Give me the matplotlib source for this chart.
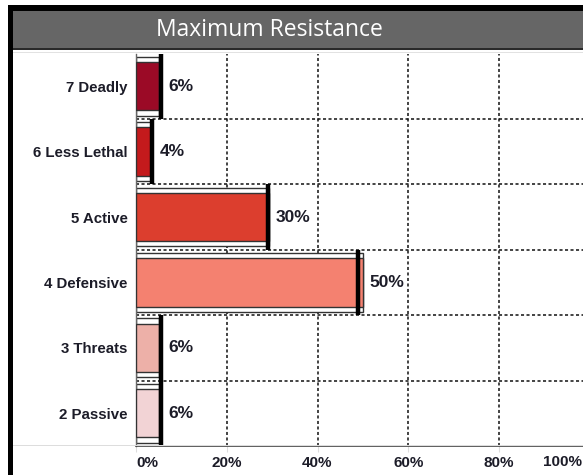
import matplotlib
matplotlib.use("Agg")
import matplotlib.pyplot as plt
from matplotlib.patches import Rectangle

# ---- data ----
categories = ["7 Deadly", "6 Less Lethal", "5 Active", "4 Defensive", "3 Threats", "2 Passive"]
bar_values = [5.0, 3.3, 29.3, 50.0, 5.0, 5.0]
marker_values = [5.5, 3.6, 29.0, 49.0, 5.5, 5.5]
value_labels = ["6%", "4%", "30%", "50%", "6%", "6%"]
bar_colors = ["#9B0A26", "#C41A1C", "#DC3E2E", "#F48170", "#EDB0A8", "#F2D3D5"]
x_ticks = [0, 20, 40, 60, 80, 100]
x_tick_labels = ["0%", "20%", "40%", "60%", "80%", "100%"]
title = "Maximum Resistance"

W, H = 583, 475
fig = plt.figure(figsize=(W / 100, H / 100), dpi=100)
fig.patch.set_facecolor("white")

def fx(x):
    return x / W

def fy(y):
    return 1 - y / H

def frect(x0, y0, x1, y1, **kw):
    fig.add_artist(Rectangle((fx(x0), fy(y1)), fx(x1) - fx(x0), fy(y0) - fy(y1),
                             transform=fig.transFigure, **kw))

# borders & title band
frect(8, 5, W + 5, 11, facecolor="black", edgecolor="none", zorder=5)
frect(8, 5, 13, H + 5, facecolor="black", edgecolor="none", zorder=5)
frect(13, 11, W + 5, 48, facecolor="#666666", edgecolor="none", zorder=4)
frect(13, 48, W + 5, 50, facecolor="#2a2a2a", edgecolor="none", zorder=4)
frect(13, 51.5, W + 5, 53, facecolor="#e2e2e2", edgecolor="none", zorder=1)
frect(13, 444.5, W + 5, 446, facecolor="#dddddd", edgecolor="none", zorder=1)
fig.text(fx(269.5), fy(30), title, color="white", fontsize=16.5,
         family="Open Sans", ha="center", va="center", zorder=6)

# axes
ax_left, ax_right = 136, 589.75
ax_top, ax_bottom = 53.5, 446
ax = fig.add_axes([fx(ax_left), fy(ax_bottom), fx(ax_right) - fx(ax_left), fy(ax_top) - fy(ax_bottom)])
ax.set_facecolor("white")
ax.set_xlim(0, 100)
n = len(categories)
ypos = list(range(n))
ax.set_ylim(n - 0.5, -0.5)

# grid
for gx in x_ticks[1:-1]:
    ax.axvline(gx, color="#111111", lw=1.1, ls=(0, (2, 1.6)), zorder=1)
for i in range(n - 1):
    ax.axhline(i + 0.5, color="#111111", lw=1.1, ls=(0, (2, 1.6)), zorder=1)

# bars
ax.barh(ypos, bar_values, height=0.9, color="white", edgecolor="#333333", lw=1, zorder=2)
ax.barh(ypos, bar_values, height=0.74, color=bar_colors, edgecolor="#333333", lw=1, zorder=3)
for y, m in zip(ypos, marker_values):
    ax.vlines(m, y - 0.5, y + 0.5, color="black", lw=3.2, zorder=4)

for y, b, m, lab in zip(ypos, bar_values, marker_values, value_labels):
    ax.annotate(lab, xy=(max(b, m), y), xytext=(5, 0), textcoords="offset points",
                ha="left", va="center", fontsize=12.5, fontweight="bold",
                family="Liberation Sans", color="#1c1c28", zorder=5)

ax.set_yticks(ypos)
ax.set_yticklabels(categories, fontsize=10.8, fontweight="bold", family="Liberation Sans", color="#1c1c28")
ax.tick_params(axis="y", length=0, pad=6)
ax.set_xticks(x_ticks)
shown = x_tick_labels[:-1] + [""]
ax.set_xticklabels(shown, fontsize=11, fontweight="bold", family="Liberation Sans", color="#1c1c28")
ax.tick_params(axis="x", length=4, color="#dddddd", pad=3)
labs = ax.get_xticklabels()
labs[0].set_ha("left")
# last tick label kept inside the figure edge
fig.text(fx(582), fy(462), x_tick_labels[-1], fontsize=11, fontweight="bold",
         family="Liberation Sans", color="#1c1c28", ha="right", va="center")

for s in ["top", "right"]:
    ax.spines[s].set_visible(False)
ax.spines["left"].set_color("#666666")
ax.spines["left"].set_linewidth(1)
ax.spines["bottom"].set_color("#444444")
ax.spines["bottom"].set_linewidth(1.2)

fig.savefig("out.png", dpi=100, facecolor="white")
